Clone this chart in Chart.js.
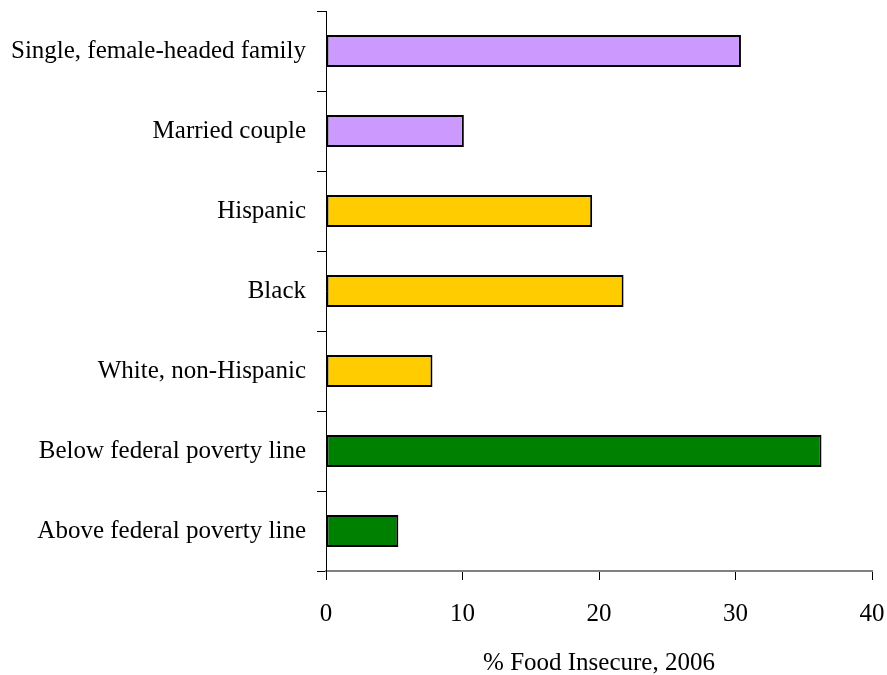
<!DOCTYPE html>
<html>
<head>
<meta charset="utf-8">
<script src="https://cdn.jsdelivr.net/npm/chart.js@4/dist/chart.umd.min.js"></script>
<style>
  html, body { margin: 0; padding: 0; background: #ffffff; }
  #wrap { width: 887px; height: 675px; }
</style>
</head>
<body>
<div id="wrap"><canvas id="c" width="887" height="675"></canvas></div>
<script>
// Household groups, top to bottom
const categories = [
  "Single, female-headed family",
  "Married couple",
  "Hispanic",
  "Black",
  "White, non-Hispanic",
  "Below federal poverty line",
  "Above federal poverty line"
];
// Share of households that were food insecure in 2006 (%)
const foodInsecure = [30.4, 10.1, 19.5, 21.8, 7.8, 36.3, 5.3];
// Grouping: family type, race/ethnicity, income
const barColors = ["#CC99FF", "#CC99FF", "#FFCC00", "#FFCC00", "#FFCC00", "#008000", "#008000"];
const xTicks = [0, 10, 20, 30, 40];
const xTitle = "% Food Insecure, 2006";

const serif = "'Liberation Serif', 'Times New Roman', serif";
const fontSize = 25;

const whiteBg = {
  id: "whiteBg",
  beforeDraw(chart) {
    const ctx = chart.ctx;
    ctx.save();
    ctx.fillStyle = "#ffffff";
    ctx.fillRect(0, 0, chart.width, chart.height);
    ctx.restore();
  }
};

new Chart(document.getElementById("c"), {
  type: "bar",
  data: {
    labels: categories,
    datasets: [{
      data: foodInsecure,
      backgroundColor: barColors,
      borderColor: "#000000",
      borderWidth: 2,
      borderSkipped: false,
      barPercentage: 0.4,
      categoryPercentage: 1.0
    }]
  },
  options: {
    indexAxis: "y",
    responsive: false,
    animation: false,
    devicePixelRatio: 1,
    layout: { padding: { top: 11, right: 15, bottom: 0, left: 0 } },
    plugins: {
      legend: { display: false },
      tooltip: { enabled: false }
    },
    scales: {
      x: {
        type: "linear",
        min: xTicks[0],
        max: xTicks[xTicks.length - 1],
        afterBuildTicks(scale) { scale.ticks = xTicks.map(v => ({ value: v })); },
        afterFit(scale) {
          scale.height = 104;
          scale.paddingLeft = 0;
          scale.paddingRight = 0;
        },
        border: { display: true, color: "#808080", width: 2 },
        grid: { drawOnChartArea: false, drawTicks: true, tickLength: 9, color: "#000000", lineWidth: 1 },
        ticks: { color: "#000000", font: { family: serif, size: fontSize }, padding: 19 },
        title: {
          display: true,
          text: xTitle,
          color: "#000000",
          font: { family: serif, size: fontSize },
          padding: { top: 0, bottom: -3 }
        }
      },
      y: {
        type: "category",
        offset: true,
        afterFit(scale) {
          scale.width = 326;
          scale.paddingTop = 0;
          scale.paddingBottom = 0;
        },
        border: { display: true, color: "#000000", width: 1 },
        grid: { offset: true, drawOnChartArea: false, drawTicks: true, tickLength: 9, color: "#000000", lineWidth: 1 },
        ticks: { color: "#000000", font: { family: serif, size: fontSize }, padding: 11, autoSkip: false }
      }
    }
  },
  plugins: [whiteBg]
});
</script>
</body>
</html>
